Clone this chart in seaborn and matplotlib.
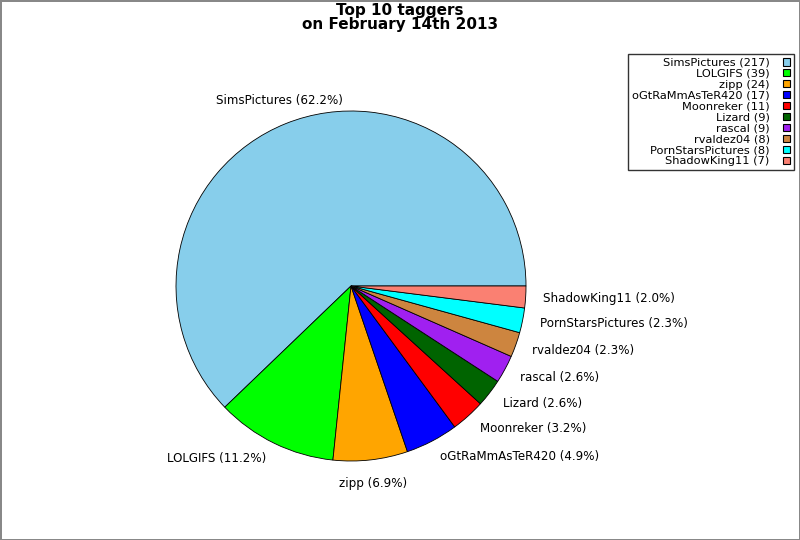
import matplotlib
matplotlib.use("Agg")
import matplotlib.pyplot as plt
import seaborn as sns
import numpy as np

names = ["SimsPictures", "LOLGIFS", "zipp", "oGtRaMmAsTeR420", "Moonreker",
         "Lizard", "rascal", "rvaldez04", "PornStarsPictures", "ShadowKing11"]
counts = [217, 39, 24, 17, 11, 9, 9, 8, 8, 7]
colors = ["#87CEEB", "#00FF00", "#FFA500", "#0000FF", "#FF0000",
          "#006400", "#A020F0", "#CD853F", "#00FFFF", "#FA8072"]
title_text = "Top 10 taggers\non February 14th 2013"

sns.set_style("white")
plt.rcParams['font.family'] = ['DejaVu Sans']
plt.rcParams['text.color'] = 'black'

fig = plt.figure(figsize=(8, 5.4), dpi=100)
fig.patch.set_edgecolor("#888888")
fig.patch.set_linewidth(2)

ax = fig.add_axes([176/800, (540-461)/540, 350/800, 350/540])
total = sum(counts)
pct_labels = [f"{n} ({c/total*100:.1f}%)" for n, c in zip(names, counts)]

wedges, texts = ax.pie(counts, labels=pct_labels, colors=colors, startangle=0,
                       counterclock=True, labeldistance=1.1,
                       wedgeprops=dict(edgecolor="black", linewidth=0.6),
                       textprops=dict(fontsize=8.6, color="black"))
ax.set_xlim(-1, 1)
ax.set_ylim(-1, 1)
ax.set_aspect("equal")

for t in texts:
    x, y = t.get_position()
    r = np.hypot(x, y)
    cx, sy = x / r, y / r
    if cx > 0.4:
        t.set_ha("left"); t.set_va("center")
    elif cx < -0.4:
        t.set_ha("right"); t.set_va("center")
    else:
        t.set_ha("center")
        t.set_va("bottom" if sy > 0 else "top")

legend_labels = [f"{n} ({c})" for n, c in zip(names, counts)]
leg = fig.legend(wedges, legend_labels, loc="upper right",
                 bbox_to_anchor=(794/800, 1 - 54/540), markerfirst=False,
                 fontsize=8.2, frameon=True, fancybox=False, labelspacing=0.08,
                 handlelength=0.6, handleheight=0.6, handletextpad=1.2,
                 borderpad=0.35, borderaxespad=0.0)
leg.get_frame().set_edgecolor("black")
leg.get_frame().set_linewidth(1)
for txt in leg.get_texts():
    txt.set_ha("right")
    txt.set_color("black")
leg._legend_box.align = "right"
for p in leg.get_patches():
    p.set_edgecolor("black")
    p.set_linewidth(0.8)

fig.text(0.5, 1 - 3/540, title_text, ha="center", va="top", color="black",
         fontsize=11, fontweight="bold", linespacing=0.95)

fig.savefig("out.png", dpi=100, edgecolor=fig.get_edgecolor())
